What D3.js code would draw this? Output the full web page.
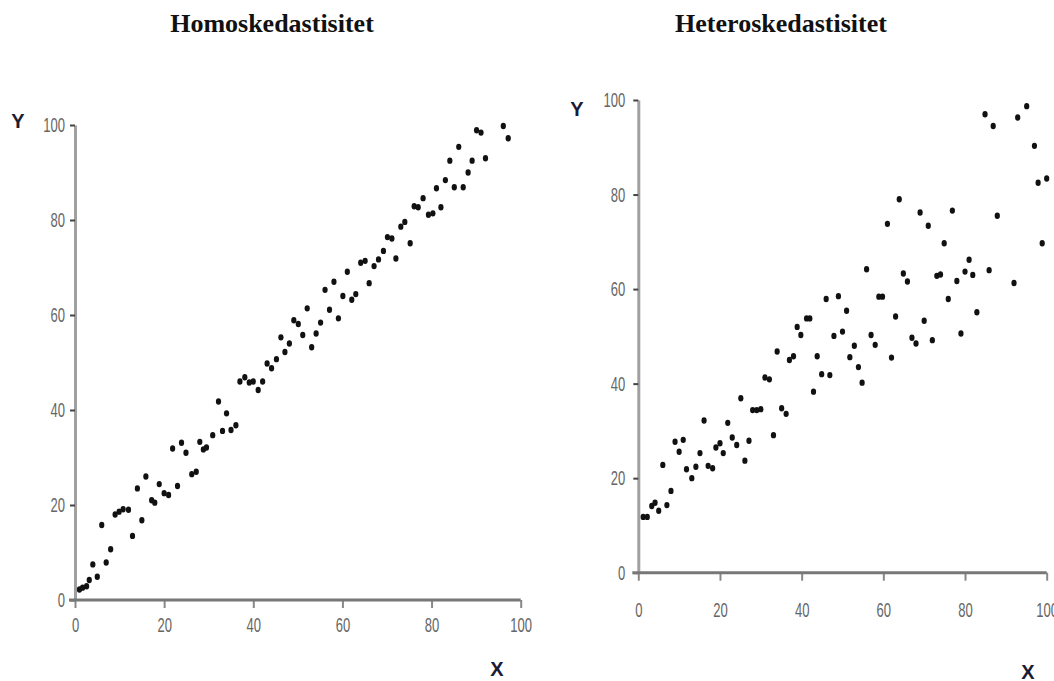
<!DOCTYPE html>
<html>
<head>
<meta charset="utf-8">
<script src="https://cdn.jsdelivr.net/npm/d3@7"></script>
<style>
  body { margin: 0; background: #fff; }
  svg { display: block; }
</style>
</head>
<body>
<div id="chart"></div>
<script>
// data
var homoX = [1, 1.7, 2.6, 3.2, 4, 5, 6, 7, 8, 9, 9.9, 10.8, 12, 12.9, 14, 15, 15.9, 17.2, 17.9, 18.9,
  20, 21, 21.9, 23, 23.9, 24.9, 26.2, 27.2, 28, 28.8, 29.5, 30.9, 32.2, 33.1, 34, 35, 36.1, 37, 38.1, 39.1,
  40, 41.1, 42.1, 43.1, 44.1, 45.2, 46.2, 47.1, 48.1, 49.1, 50.1, 51.1, 52.1, 53.1, 54.1, 55.1, 56.1, 57.1, 58.1, 59.1,
  60.1, 61.1, 62.1, 63, 64.1, 65.1, 66, 67.1, 68.1, 69.2, 70.1, 71.1, 72, 73.1, 74, 75.2, 76.1, 77, 78.1, 79.3,
  80.3, 81.1, 82.1, 83.1, 84.1, 85.1, 86.1, 87.1, 88.2, 89.1, 90.1, 91.1, 92.1, 96.1, 97.2];
var homoY = [2.2, 2.6, 2.9, 4.2, 7.5, 4.9, 15.8, 7.9, 10.7, 18, 18.6, 19.1, 19, 13.5, 23.5, 16.8, 26, 21, 20.5, 24.4,
  22.5, 22.1, 31.9, 24, 33.1, 31, 26.5, 27, 33.3, 31.7, 32.1, 34.7, 41.8, 35.6, 39.3, 35.8, 36.8, 46, 46.9, 45.8,
  46, 44.2, 46, 49.8, 48.8, 50.7, 55.3, 52.2, 54, 58.9, 58.1, 55.8, 61.4, 53.2, 56.1, 58.4, 65.3, 61.1, 67, 59.3,
  64, 69.1, 63.2, 64.4, 71, 71.4, 66.7, 70.3, 71.7, 73.5, 76.4, 76.1, 71.9, 78.6, 79.6, 75.1, 82.9, 82.7, 84.6, 81.1,
  81.4, 86.7, 82.7, 88.4, 92.5, 86.9, 95.4, 86.9, 90, 92.5, 98.9, 98.4, 93, 99.8, 97.2];

var heteroX = [1.2, 2.2, 3.3, 4.1, 5, 6, 7, 8, 9, 10, 11, 11.8, 13.1, 14.1, 15.1, 16.1, 17.1, 18.2, 19, 20,
  20.8, 21.9, 23, 24.1, 25.1, 26.1, 27.1, 28, 29, 30, 31, 32.1, 33.1, 34, 35.1, 36.2, 37, 38, 38.9, 39.8,
  41.2, 42, 42.9, 43.8, 44.9, 46, 46.9, 47.9, 49, 50, 51, 51.8, 52.9, 53.9, 54.8, 55.9, 57, 58, 58.9, 59.8,
  61, 62, 63, 63.9, 64.9, 65.9, 67, 68, 69, 70, 71, 72, 73.1, 74, 74.9, 75.9, 76.9, 78, 79, 80,
  81, 81.9, 82.9, 84.9, 85.9, 86.9, 87.9, 92, 92.9, 95.1, 97, 97.9, 98.9, 100];
var heteroY = [11.8, 11.8, 14.1, 14.8, 13.1, 22.8, 14.3, 17.3, 27.7, 25.6, 28.1, 21.9, 20, 22.4, 25.3, 32.2, 22.6, 22.1, 26.5, 27.4,
  25.3, 31.7, 28.6, 27, 36.9, 23.7, 27.9, 34.4, 34.4, 34.6, 41.3, 40.9, 29.1, 46.8, 34.8, 33.6, 45, 45.8, 52, 50.3,
  53.8, 53.8, 38.3, 45.8, 42, 57.9, 41.8, 50.1, 58.5, 51, 55.4, 45.6, 48, 43.5, 40.2, 64.2, 50.3, 48.2, 58.4, 58.4,
  73.8, 45.5, 54.2, 79, 63.3, 61.6, 49.7, 48.5, 76.2, 53.3, 73.4, 49.2, 62.8, 63.1, 69.7, 57.9, 76.6, 61.7, 50.6, 63.7,
  66.2, 63, 55.1, 97, 64, 94.5, 75.5, 61.3, 96.3, 98.7, 90.3, 82.5, 69.7, 83.4];

var tickValues = [0, 20, 40, 60, 80, 100];
var titles = ["Homoskedastisitet", "Heteroskedastisitet"];

//width and height
var w = 1054;
var h = 681;
var squeeze = 0.62; // condensed tick labels

var svg = d3.select("#chart")
  .append("svg")
  .attr("width", w)
  .attr("height", h);

var panels = [
  { title: titles[0], xs: homoX, ys: homoY, x0: 75, x1: 520.7, y0: 600, y1: 125,
    titleX: 272, yLab: [18, 121], xLab: [497, 669], xPad: 9, yGap: 10 },
  { title: titles[1], xs: heteroX, ys: heteroY, x0: 638.3, x1: 1046.7, y0: 572.7, y1: 100,
    titleX: 781, yLab: [577, 109], xLab: [1028, 672], xPad: 21, yGap: 13 }
];

panels.forEach(function (p) {
  var data = p.xs.map(function (d, i) { return { x: d, y: p.ys[i] }; });

  var xScale = d3.scaleLinear().domain([0, 100]).range([p.x0, p.x1]);
  var yScale = d3.scaleLinear().domain([0, 100]).range([p.y0, p.y1]);

  // title
  svg.append("text")
    .attr("x", p.titleX)
    .attr("y", 32)
    .attr("text-anchor", "middle")
    .attr("font-family", "'Liberation Serif', 'DejaVu Serif', serif")
    .attr("font-weight", "bold")
    .attr("font-size", "26px")
    .attr("fill", "#111")
    .text(p.title);

  //y axis
  var yAxis = d3.axisLeft(yScale).tickValues(tickValues).tickSize(5).tickSizeOuter(0);
  var gy = svg.append("g")
    .attr("transform", "translate(" + p.x0 + ",0)")
    .call(yAxis);
  gy.select(".domain").attr("stroke", "#a0a0a0").attr("stroke-width", 3);
  gy.selectAll(".tick line").attr("stroke", "#444").attr("stroke-width", 2);
  gy.selectAll(".tick text")
    .attr("font-family", "'Liberation Sans Narrow', 'Liberation Sans', sans-serif")
    .attr("font-size", "21px")
    .attr("fill", "#666")
    .attr("x", -p.yGap / squeeze)
    .attr("transform", "scale(" + squeeze + ",1)");

  //x axis
  var xAxis = d3.axisBottom(xScale).tickValues(tickValues).tickSize(8).tickSizeOuter(0).tickPadding(p.xPad);
  var gx = svg.append("g")
    .attr("transform", "translate(0," + p.y0 + ")")
    .call(xAxis);
  gx.select(".domain").remove();
  gx.append("line")
    .attr("x1", xScale(0) - 6)
    .attr("x2", xScale(100))
    .attr("stroke", "#777")
    .attr("stroke-width", 3);
  gx.selectAll(".tick line").attr("stroke", "#888").attr("stroke-width", 2);
  gx.selectAll(".tick text")
    .attr("font-family", "'Liberation Sans Narrow', 'Liberation Sans', sans-serif")
    .attr("font-size", "21px")
    .attr("fill", "#666")
    .attr("transform", "scale(" + squeeze + ",1)");

  // axis letters
  svg.append("text")
    .attr("x", p.yLab[0])
    .attr("y", p.yLab[1])
    .attr("dy", "0.36em")
    .attr("text-anchor", "middle")
    .attr("font-family", "'Liberation Sans', Arial, sans-serif")
    .attr("font-weight", "bold")
    .attr("font-size", "20px")
    .attr("fill", "#1b1b33")
    .text("Y");
  svg.append("text")
    .attr("x", p.xLab[0])
    .attr("y", p.xLab[1])
    .attr("dy", "0.36em")
    .attr("text-anchor", "middle")
    .attr("font-family", "'Liberation Sans', Arial, sans-serif")
    .attr("font-weight", "bold")
    .attr("font-size", "20px")
    .attr("fill", "#1b1b33")
    .text("X");

  //points
  svg.append("g").selectAll("ellipse")
    .data(data)
    .enter()
    .append("ellipse")
    .attr("cx", function (d) { return xScale(d.x); })
    .attr("cy", function (d) { return yScale(d.y); })
    .attr("rx", 2.6)
    .attr("ry", 3.2)
    .attr("fill", "#111");
});
</script>
</body>
</html>
